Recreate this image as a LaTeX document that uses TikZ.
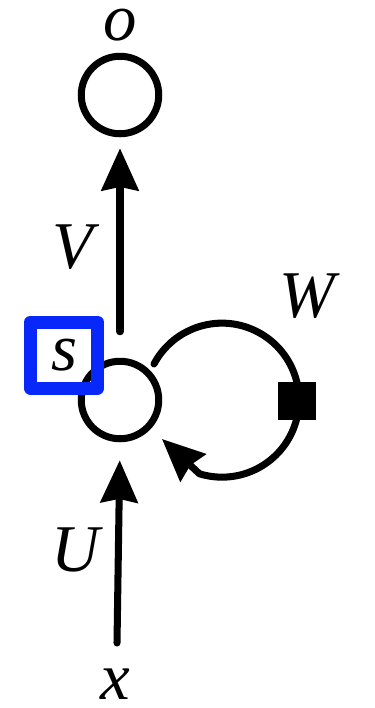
\documentclass[tikz,border=0pt]{standalone}
\usepackage{fontspec}
\setmainfont{Liberation Serif}
\usetikzlibrary{positioning, arrows.meta}
\definecolor{selblue}{RGB}{8,40,250}

\begin{document}
\begin{tikzpicture}[x=0.02cm, y=-0.02cm, line cap=round, line join=round,
    unit/.style={circle, draw, line width=4pt, minimum size=1.55cm, inner sep=0pt},
    lbl/.style={font=\fontsize{38}{42}\selectfont\itshape, inner sep=0pt},
    conn/.style={line width=4pt, -{Stealth[length=24pt, width=21pt, inset=2pt]}},
    selbox/.style={draw=selblue, line width=7.4pt, minimum width=1.35cm, minimum height=1.32cm, inner sep=0pt},
    gate/.style={fill=black, minimum size=0.76cm, inner sep=0pt}]
    % page frame
    \useasboundingbox (0,0) rectangle (375,708);
    % output and hidden units
    \node[unit] (out) at (120,95) {};
    \node[unit] (hid) at (120,400) {};
    % labels
    \node[lbl] (o) at (120,25) {o};
    \node[lbl] (V) at (73,247) {V};
    \node[lbl] (U) at (76,550) {U};
    \node[lbl] (x) at (115,684) {x};
    \node[lbl] (W) at (307,296) {W};
    % highlighted state label
    \node[selbox, lbl] (s) at (64,355) {s};
    % input to hidden
    \coordinate (xin) at (117,643);
    \draw[conn, shorten >=0.36cm] (xin) -- (hid.south);
    % hidden to output
    \draw[conn, shorten <=0.52cm, shorten >=0.22cm] (hid.north) -- (out.south);
    % recurrent loop
    \coordinate (wstart) at (154,364);
    \draw[conn, shorten >=0.3cm] (wstart) arc[start angle=-152, end angle=107, radius=77] -- (hid);
    \node[gate] (wgate) at (297,401) {};
\end{tikzpicture}
\end{document}
